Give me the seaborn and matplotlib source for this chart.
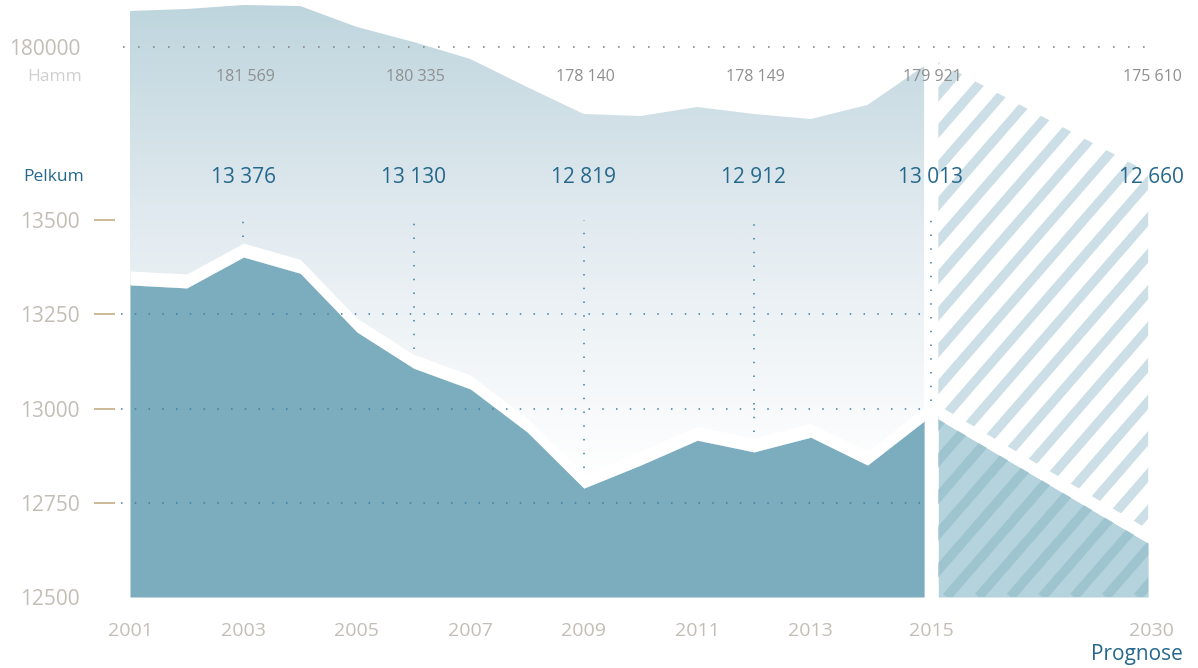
import numpy as np
import pandas as pd
import seaborn as sns
import matplotlib.pyplot as plt
from matplotlib.colors import LinearSegmentedColormap
from matplotlib.collections import LineCollection

# values
years = list(range(2001, 2016))
pelkum = [13328, 13320, 13402, 13359, 13203, 13107, 13052, 12938,
          12789, 12850, 12916, 12885, 12924, 12850, 12967]
hamm = [181343, 181417, 181567, 181529, 180746, 180187, 179552, 178508,
        177501, 177426, 177762, 177501, 177314, 177837, 179291]
prog_years = [2015, 2030]
pelkum_prog = [12972, 12643]
hamm_prog = [179440, 175337]

label_years = [2003, 2006, 2009, 2012, 2015, 2030]
pelkum_labels = ["13 376", "13 130", "12 819", "12 912", "13 013", "12 660"]
hamm_labels = ["181 569", "180 335", "178 140", "178 149", "179 921", "175 610"]

tick_years = [2001, 2003, 2005, 2007, 2009, 2011, 2013, 2015, 2030]
pelkum_ticks = [12500, 12750, 13000, 13250, 13500]

# colours
DARK = "#7badbe"
PROG = "#b5d3dc"
BLUE = "#26688c"
TICK = "#c3beb5"
GREYNUM = "#8f8f8f"
DOT_BLUE = "#3d7fa3"

sns.set_theme(style="white")
plt.rcParams["font.family"] = ["Open Sans", "DejaVu Sans"]


def xpos(year):
    # 2001-2015 one unit per year, forecast squeezed after a small gap
    if year <= 2015:
        return year - 2001
    return 14.25 + (year - 2015) * 3.7 / 15


def label_x(year):
    if year == 2015:
        return 14.12
    if year == 2030:
        return xpos(2030) + 0.05
    return xpos(year)


df = pd.DataFrame({"year": years, "pelkum": pelkum, "hamm": hamm})
df["x"] = [xpos(y) for y in years]
dfp = pd.DataFrame({"year": prog_years, "pelkum": pelkum_prog, "hamm": hamm_prog})
dfp["x"] = [14.25, xpos(2030)]

band = 37
W, H = 1021, 597

fig = plt.figure(figsize=(11.98, 6.68), dpi=100)
ax = fig.add_axes([130 / 1198, 71 / 668, W / 1198, H / 668])
axh = ax.twinx()
ax.set_zorder(1)
axh.set_zorder(0)
ax.patch.set_visible(False)

XMAX = xpos(2030)
P_LIM = (12500, 14084)
H_LIM = (159485, 181753)


def stripes(axis, coll, z):
    th = np.radians(49)
    t = np.tan(th)
    ph = 24 / np.sin(th)
    segs = []
    x0 = -H / t
    while x0 < W:
        segs.append([(x0 / W, 0), ((x0 + H / t) / W, 1)])
        x0 += ph
    lc = LineCollection(segs, colors=DARK, alpha=0.38, linewidths=9.5 * 0.72,
                        transform=axis.transAxes, zorder=z)
    axis.add_collection(lc, autolim=False)
    lc.set_clip_path(coll.get_paths()[0], axis.transData)


# Hamm (background layer): gradient area + hatched forecast
hpoly = axh.fill_between(df["x"], df["hamm"], H_LIM[0], color="none", lw=0)
cmap = LinearSegmentedColormap.from_list(
    "hg", [(0, "#bed5dd"), (0.4, "#e4ecf1"), (0.8, "#ffffff"), (1, "#ffffff")])
grad = np.linspace(0, 1, 400).reshape(-1, 1)
im = axh.imshow(grad, extent=(0, XMAX, H_LIM[0], H_LIM[1]), aspect="auto",
                cmap=cmap, origin="upper", zorder=1)
im.set_clip_path(hpoly.get_paths()[0], axh.transData)

hprog = axh.fill_between(dfp["x"], dfp["hamm"], H_LIM[0], color="white", lw=0, zorder=1)
stripes(axh, hprog, 2)

axh.hlines(180000, -0.13, XMAX, colors="#8a8a8a", linestyles=(0, (1, 8)),
           lw=1.2, clip_on=False, zorder=5)

# Pelkum (front layer)
ax.fill_between(df["x"], df["pelkum"], P_LIM[0], color=DARK, lw=0, zorder=1)
sns.lineplot(data=df, x="x", y="pelkum", ax=ax, color=DARK, lw=0.6, zorder=1)
ax.fill_between(df["x"], df["pelkum"], df["pelkum"] + band, color="white", lw=0, zorder=2)
pprog = ax.fill_between(dfp["x"], dfp["pelkum"], P_LIM[0], color=PROG, lw=0, zorder=1)
ax.fill_between(dfp["x"], dfp["pelkum"], dfp["pelkum"] + band, color="white", lw=0, zorder=2)
stripes(ax, pprog, 3)

# dotted guide lines
ax.hlines(pelkum_ticks[1:4], -0.15, 14.0, colors=DOT_BLUE, linestyles=(0, (1, 8)),
          lw=1.1, clip_on=False, zorder=5)
vx, vend = [], []
for yr in label_years[:-1]:
    idx = years.index(yr)
    vx.append(label_x(yr))
    vend.append(pelkum[idx] + band + 15)
ax.vlines(vx, vend, 13500, colors=DOT_BLUE, linestyles=(0, (1, 8)), lw=1.1, zorder=5)

# tan tick dashes
ax.hlines(pelkum_ticks[1:], -0.0353, -0.0147, transform=ax.get_yaxis_transform(),
          colors="#c8b38e", lw=1.3, clip_on=False)

# value labels
for yr, pl, hl in zip(label_years, pelkum_labels, hamm_labels):
    x = label_x(yr)
    ax.text(x, 0.7035, pl, transform=ax.get_xaxis_transform(), ha="center",
            va="center", color=BLUE, fontsize=15, zorder=6)
    ax.text(x + 0.03, 0.871, hl, transform=ax.get_xaxis_transform(), ha="center",
            va="center", color=GREYNUM, fontsize=11.5, zorder=6)

ax.text(-0.045, 0.7035, "Pelkum", transform=ax.transAxes, ha="right", va="center",
        color=BLUE, fontsize=12.5)
ax.text(-0.047, 0.871, "Hamm", transform=ax.transAxes, ha="right", va="center",
        color="#d0d0d0", fontsize=12.5)
ax.text(1.0313, -0.097, "Prognose", transform=ax.transAxes, ha="right", va="center",
        color=BLUE, fontsize=15, clip_on=False)

# axes
ax.set_xlim(0, XMAX)
ax.set_ylim(*P_LIM)
axh.set_ylim(*H_LIM)
ax.set_xticks([label_x(y) if y >= 2015 else xpos(y) for y in tick_years],
              [str(y) for y in tick_years])
ax.set_yticks(pelkum_ticks)
axh.yaxis.tick_left()
axh.set_yticks([180000])
ax.tick_params(axis="x", length=0, pad=18, labelsize=14, labelcolor=TICK)
ax.tick_params(axis="y", length=0, pad=36, labelsize=15, labelcolor=TICK)
axh.tick_params(axis="y", length=0, pad=36, labelsize=15, labelcolor=TICK)
ax.set_xlabel("")
ax.set_ylabel("")
for a in (ax, axh):
    for s in a.spines.values():
        s.set_visible(False)
    a.grid(False)

fig.savefig("out.png", dpi=100, facecolor="white")
